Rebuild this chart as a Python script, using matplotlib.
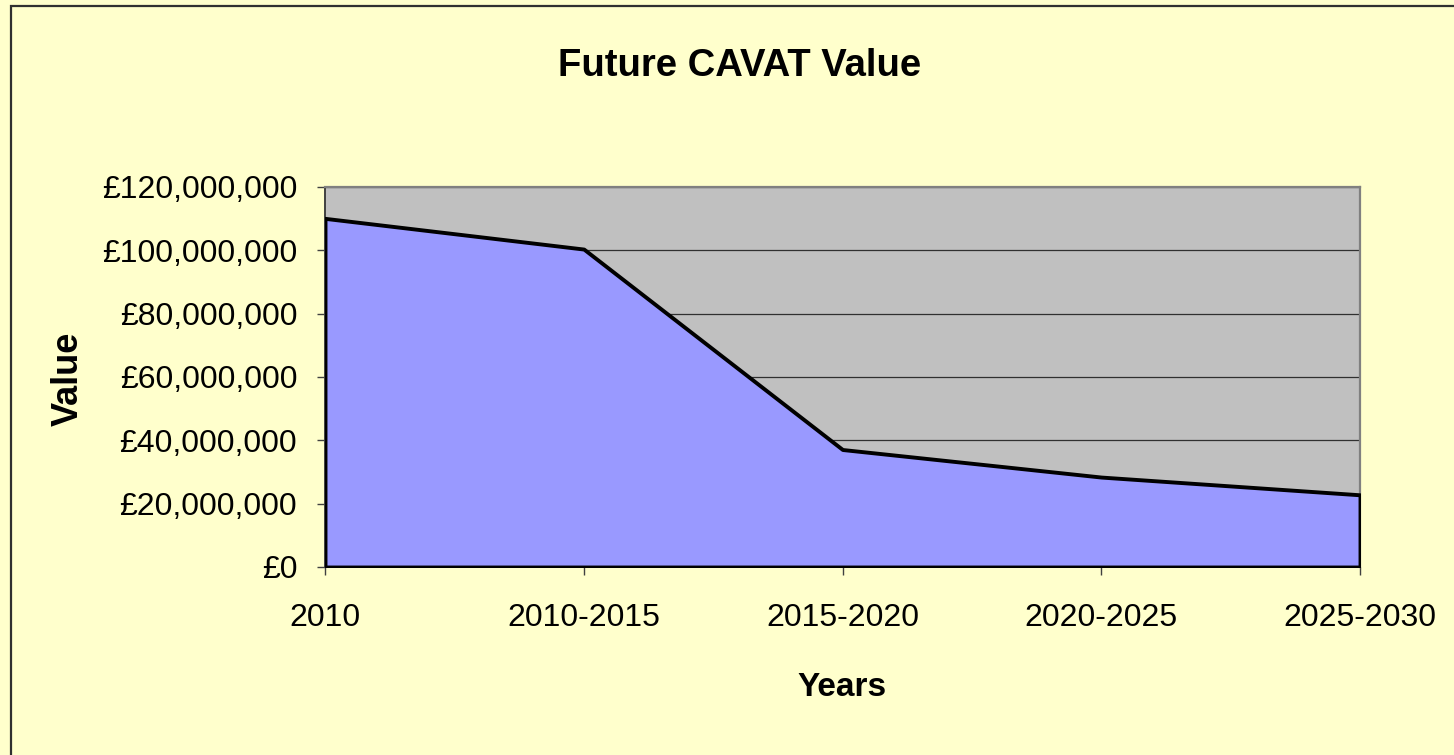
import matplotlib; matplotlib.use("Agg")
import matplotlib.pyplot as plt
from matplotlib.patches import Rectangle
from matplotlib.ticker import FuncFormatter, MultipleLocator

periods = ["2010", "2010-2015", "2015-2020", "2020-2025", "2025-2030"]
values = [110_100_000, 100_400_000, 37_100_000, 28_400_000, 22_800_000]

BG = "#FFFFCC"; PLOT_BG = "#C0C0C0"; FILL = "#9999FF"
plt.rcParams["font.family"] = ["Liberation Sans", "DejaVu Sans"]

W, H = 1454, 755
fig = plt.figure(figsize=(W/100, H/100), dpi=100, facecolor=BG)
ax = fig.add_axes([325/W, 1-567/H, (1360-325)/W, (567-187)/H])
ax.set_facecolor(PLOT_BG)

x = list(range(len(periods)))
ax.fill_between(x, values, 0, facecolor=FILL, edgecolor="black", linewidth=2.8, zorder=3)

ax.set_xlim(0, len(periods)-1); ax.set_ylim(0, 120_000_000)
ax.yaxis.set_major_locator(MultipleLocator(20_000_000))
ax.yaxis.set_major_formatter(FuncFormatter(lambda v, p: f"£{v:,.0f}"))
ax.set_xticks(x); ax.set_xticklabels(periods)
ax.set_axisbelow(True)
ax.yaxis.grid(True, color="#303030", lw=0.9)

for s in ("top", "right"):
    ax.spines[s].set_color("#808080"); ax.spines[s].set_linewidth(1.6)
for s in ("left", "bottom"):
    ax.spines[s].set_color("#404040"); ax.spines[s].set_linewidth(1.4)

ax.tick_params(axis="y", length=6, width=1, color="#404040", pad=14, labelsize=23)
ax.tick_params(axis="x", length=6, width=1, color="#404040", pad=20, labelsize=23)

fig.text(740/W, 1-66/H, "Future CAVAT Value", ha="center", va="center",
         fontsize=27.5, fontweight="bold")
fig.text(842/W, 1-688/H, "Years", ha="center", va="center", fontsize=24, fontweight="bold")
fig.text(68/W, 1-379/H, "Value", ha="center", va="center", rotation=90,
         fontsize=26, fontweight="bold")

# chart-area border (runs off the right/bottom edge)
fig.patches.append(Rectangle((11/W, -0.05), 1.2, 1-6/H+0.05, transform=fig.transFigure,
                             fill=False, edgecolor="#303030", linewidth=1.6))

fig.savefig("out.png", dpi=100, facecolor=BG)
